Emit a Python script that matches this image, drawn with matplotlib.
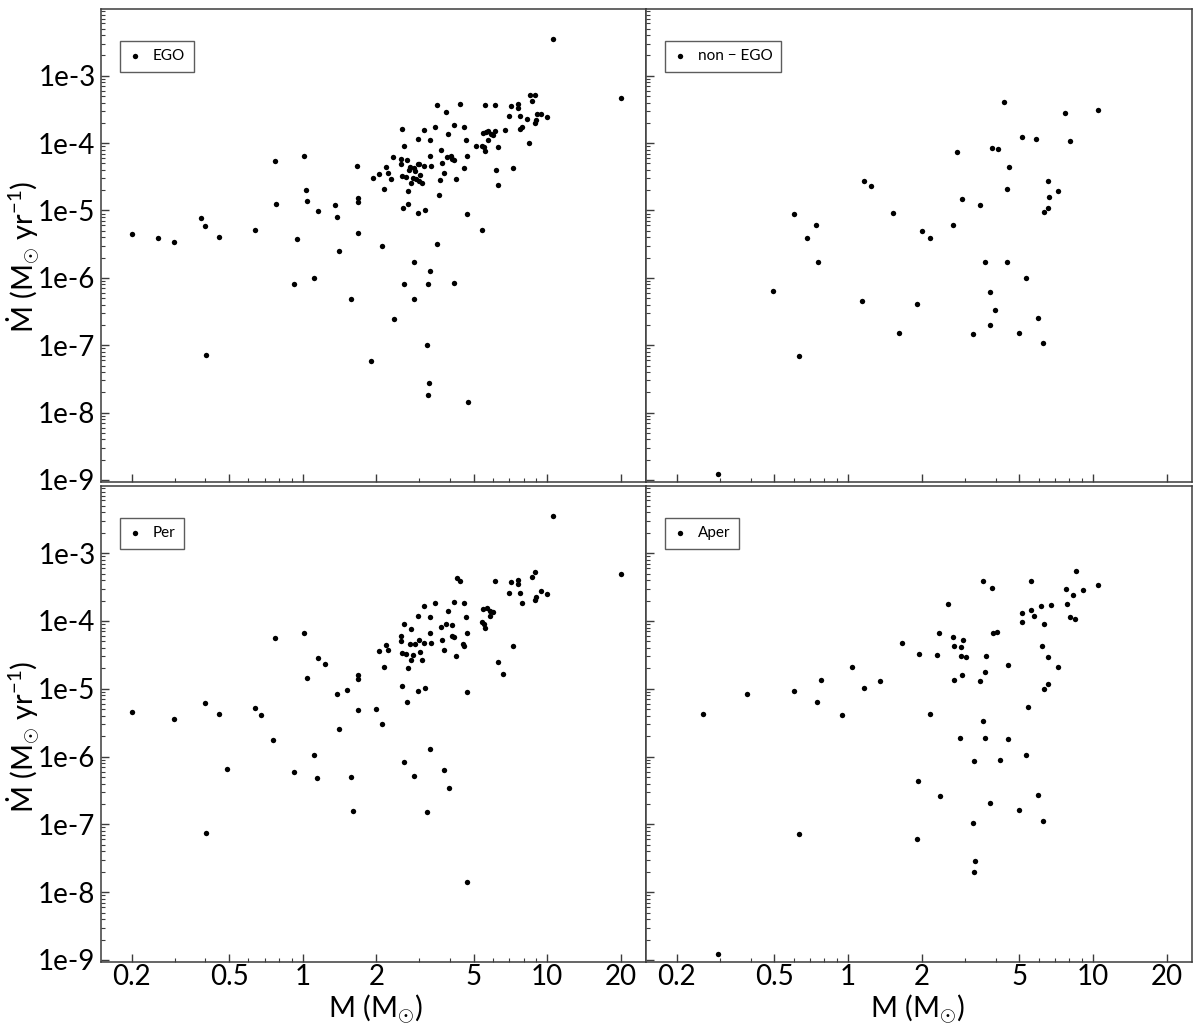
import numpy as np
import matplotlib
matplotlib.use("Agg")
import matplotlib.pyplot as plt
from matplotlib.ticker import FixedLocator, NullFormatter

plt.rcParams['font.family'] = ['Lato', 'DejaVu Sans']
plt.rcParams['mathtext.fontset'] = 'custom'
plt.rcParams['mathtext.rm'] = 'Lato'
plt.rcParams['mathtext.it'] = 'Lato:italic'

# ---- data (log10 M [Msun], log10 Mdot [Msun/yr]) ----
ego_log_m = [-0.699, -0.593, -0.527, -0.415, -0.398, -0.341, -0.394, -0.196, -0.114, -0.110,
             -0.037, -0.025, 0.005, 0.013, 0.018, 0.045, 0.061, 0.132, 0.139, 0.147,
             0.197, 0.221, 0.225, 0.225, 0.225, 0.279, 0.286, 0.313, 0.325, 0.334,
             0.342, 0.349, 0.361, 0.368, 0.373, 0.929, 0.950, 0.937, 1.300, 0.548,
             0.642, 0.747, 0.785, 0.852, 0.879, 0.879, 0.587, 0.843, 0.887, 0.958,
             0.975, 1.000, 0.918, 0.954, 0.950, 0.617, 0.661, 0.541, 0.497, 0.407,
             0.897, 0.890, 0.828, 0.785, 0.738, 0.748, 0.756, 0.770, 0.777, 0.595,
             0.470, 0.520, 0.669, 0.759, 0.926, 0.415, 0.707, 0.733, 0.740, 0.797,
             0.747, 0.564, 0.401, 0.428, 0.520, 0.591, 0.605, 0.612, 0.620, 0.672,
             0.568, 0.401, 0.470, 0.477, 0.497, 0.525, 0.439, 0.455, 0.433, 0.459,
             0.661, 0.790, 0.859, 0.579, 0.407, 0.422, 0.451, 0.481, 0.463, 0.475,
             0.443, 0.487, 0.560, 0.626, 0.797, 0.431, 0.556, 0.432, 0.409, 0.470,
             0.501, 0.672, 0.734, 0.548, 0.455, 0.520, 0.415, 0.513, 0.617, 0.455,
             0.509, 0.518, 0.513, 0.677, 1.023]
ego_log_mdot = [-5.352, -5.407, -5.466, -5.111, -5.229, -5.392, -7.142, -5.293, -4.262, -4.898,
                -6.096, -5.422, -4.194, -4.701, -4.854, -5.999, -5.012, -4.913, -5.096, -5.604,
                -6.309, -4.346, -4.809, -4.868, -5.337, -7.241, -4.519, -4.460, -5.534, -4.686,
                -4.361, -4.445, -4.528, -4.209, -6.605, -3.286, -3.286, -3.374, -3.330, -3.429,
                -3.419, -3.429, -3.429, -3.444, -3.419, -3.473, -3.543, -3.596, -3.596, -3.567,
                -3.567, -3.617, -3.646, -3.655, -3.700, -3.725, -3.754, -3.754, -3.799, -3.784,
                -3.759, -3.784, -3.799, -3.814, -3.843, -3.833, -3.824, -3.862, -3.883, -3.868,
                -3.936, -3.951, -3.951, -3.951, -3.996, -4.050, -4.040, -4.040, -4.061, -4.065,
                -4.120, -4.109, -4.232, -4.257, -4.194, -4.209, -4.198, -4.232, -4.247, -4.194,
                -4.291, -4.317, -4.306, -4.306, -4.336, -4.336, -4.361, -4.365, -4.405, -4.420,
                -4.376, -4.405, -4.376, -4.445, -4.484, -4.499, -4.513, -4.479, -4.538, -4.564,
                -4.587, -4.593, -4.543, -4.528, -4.617, -4.716, -4.771, -4.898, -4.967, -5.041,
                -4.997, -5.052, -5.293, -5.504, -5.762, -5.899, -6.096, -6.096, -6.081, -6.309,
                -6.999, -7.561, -7.734, -7.848, -2.453]

nonego_log_m = [0.063, 0.094, -0.222, 0.182, -0.130, 0.300, -0.168, -0.121, -0.308, 0.058,
                0.283, 0.206, -0.199, -0.530, 0.635, 0.887, 1.020, 0.709, 0.767, 0.905,
                0.444, 0.587, 0.612, 0.658, 0.818, 0.650, 0.857, 0.822, 0.467, 0.537,
                0.818, 0.798, 0.428, 0.335, 0.557, 0.650, 0.725, 0.581, 0.599, 0.775,
                0.581, 0.509, 0.696, 0.794]
nonego_log_mdot = [-4.558, -4.642, -5.056, -5.041, -5.223, -5.308, -5.407, -5.771, -6.195, -6.339,
                   -6.392, -6.817, -7.167, -8.917, -3.389, -3.558, -3.503, -3.913, -3.942, -3.966,
                   -4.139, -4.070, -4.084, -4.351, -4.564, -4.676, -4.716, -4.800, -4.830, -4.913,
                   -4.957, -5.027, -5.209, -5.407, -5.762, -5.771, -5.999, -6.210, -6.476, -6.590,
                   -6.703, -6.831, -6.817, -6.969]

per_log_m = [-0.698, -0.527, -0.398, -0.341, -0.394, -0.309, -0.196, -0.169, -0.123, -0.114,
             -0.037, 0.005, 0.018, 0.045, 0.057, 0.061, 0.092, 0.139, 0.147, 0.181,
             0.197, 0.206, 0.225, 0.225, 0.225, 0.298, 0.313, 0.325, 0.334, 0.342,
             0.349, 0.632, 0.642, 0.785, 0.852, 0.879, 0.879, 0.937, 0.950, 1.300,
             0.843, 0.887, 0.975, 1.000, 0.954, 0.950, 0.898, 0.617, 0.661, 0.541,
             0.497, 0.594, 0.738, 0.755, 0.767, 0.778, 0.767, 0.470, 0.520, 0.669,
             0.415, 0.732, 0.740, 0.587, 0.610, 0.443, 0.564, 0.747, 0.520, 0.673,
             0.401, 0.610, 0.619, 0.568, 0.401, 0.477, 0.497, 0.525, 0.439, 0.458,
             0.657, 0.661, 0.859, 0.579, 0.407, 0.422, 0.481, 0.451, 0.626, 0.443,
             0.487, 0.797, 0.431, 0.820, 0.407, 0.470, 0.501, 0.672, 0.428, 0.520,
             0.415, 0.579, 0.455, 0.598, 0.509, 0.672, 1.023]
per_log_mdot = [-5.336, -5.450, -5.212, -5.377, -7.126, -6.182, -5.278, -5.392, -5.762, -4.250,
                -6.228, -4.178, -4.842, -5.984, -6.321, -4.546, -4.630, -5.081, -5.590, -5.024,
                -6.296, -6.799, -4.800, -4.852, -5.320, -5.294, -4.448, -5.518, -4.672, -4.349,
                -4.432, -3.374, -3.404, -3.414, -3.429, -3.399, -3.459, -3.359, -3.275, -3.315,
                -3.581, -3.581, -3.556, -3.601, -3.645, -3.685, -3.740, -3.714, -3.740, -3.740,
                -3.784, -3.852, -3.822, -3.808, -3.848, -3.867, -3.922, -3.926, -3.941, -3.936,
                -4.040, -4.021, -4.040, -4.050, -4.065, -4.118, -4.095, -4.109, -4.178, -4.178,
                -4.217, -4.222, -4.237, -4.277, -4.302, -4.287, -4.321, -4.321, -4.346, -4.346,
                -4.336, -4.365, -4.365, -4.435, -4.473, -4.484, -4.459, -4.503, -4.518, -4.573,
                -4.573, -4.602, -4.701, -4.784, -4.953, -5.027, -4.982, -5.041, -5.194, -5.885,
                -6.081, -6.195, -6.293, -6.462, -6.817, -7.848, -2.453]

aper_log_m = [-0.592, -0.413, -0.222, -0.128, -0.109, -0.023, 0.015, 0.063, 0.132, 0.222,
              0.289, 0.362, 0.370, 0.335, 0.285, 0.374, -0.199, 0.280, 0.930, 0.550,
              0.748, 0.589, 1.020, 0.888, 0.959, 0.920, 0.409, 0.892, 0.830, 0.787,
              0.748, 0.710, 0.760, 0.904, 0.926, 0.710, 0.800, 0.590, 0.609, 0.428,
              0.471, 0.432, 0.460, 0.462, 0.480, 0.561, 0.792, 0.818, 0.651, 0.857,
              0.557, 0.467, 0.432, 0.538, 0.818, 0.800, 0.736, 0.549, 0.455, 0.557,
              0.651, 0.725, 0.513, 0.620, 0.775, 0.581, 0.697, 0.509, 0.794, 0.518,
              0.513, -0.530]
aper_log_mdot = [-5.376, -5.080, -5.027, -5.194, -4.868, -5.391, -4.672, -4.982, -4.883, -4.321,
                 -4.488, -4.503, -4.178, -5.376, -6.362, -6.580, -7.142, -7.210, -3.260, -3.404,
                 -3.404, -3.518, -3.473, -3.533, -3.547, -3.615, -3.754, -3.754, -3.769, -3.784,
                 -3.843, -3.882, -3.926, -3.941, -3.970, -4.010, -4.040, -4.178, -4.163, -4.237,
                 -4.277, -4.376, -4.391, -4.518, -4.533, -4.518, -4.376, -4.533, -4.646, -4.686,
                 -4.746, -4.799, -4.873, -4.883, -4.928, -4.997, -5.268, -5.475, -5.731, -5.731,
                 -5.746, -5.973, -6.067, -6.056, -6.565, -6.678, -6.791, -6.973, -6.944, -7.536,
                 -7.709, -8.917]

panel_labels = ['EGO', 'non \u2212 EGO', 'Per', 'Aper']
x_ticks = [0.2, 0.5, 1, 2, 5, 10, 20]
x_ticklabels = ['0.2', '0.5', '1', '2', '5', '10', '20']
y_ticks = [1e-9, 1e-8, 1e-7, 1e-6, 1e-5, 1e-4, 1e-3]
y_ticklabels = ['1e-9', '1e-8', '1e-7', '1e-6', '1e-5', '1e-4', '1e-3']

series = [(ego_log_m, ego_log_mdot), (nonego_log_m, nonego_log_mdot),
          (per_log_m, per_log_mdot), (aper_log_m, aper_log_mdot)]

W, H = 1200, 1030
fig = plt.figure(figsize=(W / 100, H / 100), dpi=100)

# axes rectangles in pixels: (left, top, right, bottom)
rects = [(101, 9, 646, 482), (646, 9, 1192, 482),
         (101, 486, 646, 962), (646, 486, 1192, 962)]

spine_col = '#3c3c3c'
minor_x = [0.3, 0.4, 0.6, 0.7, 0.8, 0.9, 3, 4, 6, 7, 8, 9]
minor_y = [m * 10.0 ** e for e in range(-10, -1) for m in range(2, 10)]

for i, ((l, t, r, b), (lm, lmd), lab) in enumerate(zip(rects, series, panel_labels)):
    ax = fig.add_axes([l / W, 1 - b / H, (r - l) / W, (b - t) / H])
    ax.scatter(10 ** np.array(lm), 10 ** np.array(lmd), s=15, c='black',
               linewidths=0, label=lab, zorder=3)
    ax.set_xscale('log')
    ax.set_yscale('log')
    ax.set_xlim(10 ** -0.825, 10 ** 1.404)
    ax.set_ylim(10 ** -9.03, 10 ** -2.01)
    ax.xaxis.set_major_locator(FixedLocator(x_ticks))
    ax.xaxis.set_minor_locator(FixedLocator(minor_x))
    ax.yaxis.set_major_locator(FixedLocator(y_ticks))
    ax.yaxis.set_minor_locator(FixedLocator(minor_y))
    ax.xaxis.set_minor_formatter(NullFormatter())
    ax.yaxis.set_minor_formatter(NullFormatter())
    if i >= 2:
        ax.set_xticklabels(x_ticklabels)
    else:
        ax.set_xticklabels([])
    if i % 2 == 0:
        ax.set_yticklabels(y_ticklabels)
    else:
        ax.set_yticklabels([])
    ax.tick_params(which='both', direction='in', top=False, right=False,
                   colors=spine_col, labelcolor='black', labelsize=20)
    ax.tick_params(which='major', length=6, width=1)
    ax.tick_params(axis='y', which='major', pad=4)
    ax.tick_params(axis='x', which='major', pad=1.5)
    ax.tick_params(which='minor', length=3, width=0.8)
    for sp in ax.spines.values():
        sp.set_color(spine_col)
        sp.set_linewidth(1.1)
    leg = ax.legend(loc='upper left', bbox_to_anchor=(19 / (r - l), 1 - 32 / (b - t)),
                    borderaxespad=0, frameon=True, fancybox=False, fontsize=11,
                    handlelength=0.9, handletextpad=0.7, borderpad=0.55,
                    markerscale=1.0)
    leg.get_frame().set_edgecolor('#333333')
    leg.get_frame().set_linewidth(1.0)

ylabel = '\u1E40 (M$_{\\odot}$ yr$^{-1}$)'
fig.text(23 / W, 1 - 257 / H, ylabel, rotation=90, ha='center', va='center', fontsize=21)
fig.text(23 / W, 1 - 737 / H, ylabel, rotation=90, ha='center', va='center', fontsize=21)
xlabel = 'M (M$_{\\odot}$)'
fig.text(375 / W, 1 - 1009 / H, xlabel, ha='center', va='center', fontsize=21)
fig.text(917 / W, 1 - 1009 / H, xlabel, ha='center', va='center', fontsize=21)

fig.savefig('out.png', dpi=100)
